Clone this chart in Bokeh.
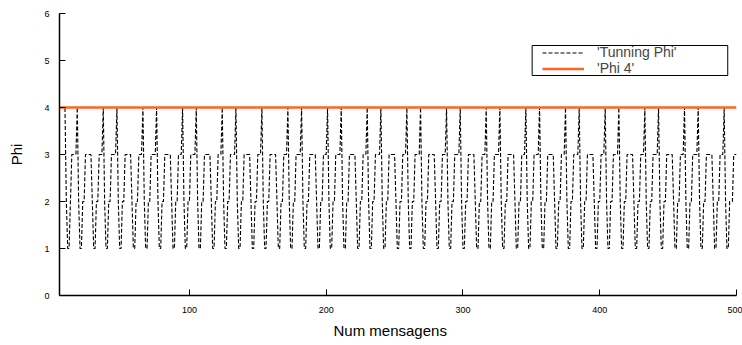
from bokeh.plotting import figure
from bokeh.models import Range1d, FixedTicker, Legend, LegendItem, BoxAnnotation, Title
from bokeh.embed import file_html
from bokeh.resources import INLINE

# 'Tunning Phi' values, one digit per message
# (each chunk ends on a peak at phi = 4)
TUNING_SEGMENTS = [
    "44444",                # msgs 5-9
    "211233334",            # 10-18
    "2112233333211223334",  # 19-37
    "2112233334",           # 38-47
    "2112233333211223334",  # 48-66
    "2112233334",           # 67-76
    "2112233333211223334",  # 77-95
    "2112233334",           # 96-105
    "2112233333211223334",  # 106-124
    "2112233334",           # 125-134
    "2112233333211223334",  # 135-153
    "2112233333211223334",  # 154-172
    "2112233334",           # 173-182
    "2112233333211223334",  # 183-201
    "2112233334",           # 202-211
    "2112233333211223334",  # 212-230
    "2112233334",           # 231-240
    "2112233333211223334",  # 241-259
    "2112233334",           # 260-269
    "2112233333211223334",  # 270-288
    "2112233334",           # 289-298
    "2112233333211223334",  # 299-317
    "2112233334",           # 318-327
    "2112233333211223334",  # 328-346
    "2112233334",           # 347-356
    "2112233333211223334",  # 357-375
    "2112233334",           # 376-385
    "2112233333211223334",  # 386-404
    "2112233334",           # 405-414
    "2112233333211223334",  # 415-433
    "2112233334",           # 434-443
    "2112233333211223334",  # 444-462
    "2112233334",           # 463-472
    "2112233333211223334",  # 473-491
    "211222333",            # 492-500
]
FIRST_MSG = 5
PHI_FIXED = 4
X_TICKS = [100, 200, 300, 400, 500]
Y_TICKS = [0, 1, 2, 3, 4, 5, 6]

tuning_phi = [int(c) for seg in TUNING_SEGMENTS for c in seg]
msgs = list(range(FIRST_MSG, FIRST_MSG + len(tuning_phi)))
phi_4 = [PHI_FIXED] * len(msgs)

FONT = "Liberation Sans"

p = figure(width=742, height=345, output_backend="svg", toolbar_location=None,
           x_range=Range1d(5, 500), y_range=Range1d(0, 6),
           min_border_left=59, min_border_right=6, min_border_top=13,
           min_border_bottom=50)
p.outline_line_color = None
p.grid.visible = False
p.background_fill_color = "white"

r1 = p.line(msgs, tuning_phi, line_color="black", line_width=1.1, line_dash="4 2")
r2 = p.line(msgs, phi_4, line_color="#ff6420", line_width=2.5)

for ax in (p.xaxis[0], p.yaxis[0]):
    ax.major_tick_in = 6
    ax.major_tick_out = 0
    ax.minor_tick_line_color = None
    ax.axis_line_width = 1.5
    ax.axis_line_color = "black"
    ax.major_tick_line_color = "black"
    ax.major_label_text_font = FONT
    ax.major_label_text_font_size = "9px"
    ax.major_label_text_color = "black"

p.xaxis[0].ticker = FixedTicker(ticks=X_TICKS)
p.yaxis[0].ticker = FixedTicker(ticks=Y_TICKS)
p.xaxis[0].major_label_standoff = 11
p.yaxis[0].major_label_standoff = 10

yax = p.yaxis[0]
yax.axis_label = "Phi"
yax.axis_label_text_font = FONT
yax.axis_label_text_font_size = "15px"
yax.axis_label_text_font_style = "normal"
yax.axis_label_text_color = "black"
yax.axis_label_standoff = 16

# x-axis title, placed where gnuplot put it (slightly left of the frame centre)
xtitle = Title(text="Num mensagens", align="left", offset=274, standoff=8,
               text_font=FONT, text_font_size="15px", text_font_style="normal",
               text_color="black")
p.add_layout(xtitle, "below")

legend = Legend(items=[LegendItem(label="'Tunning Phi'", renderers=[r1]),
                       LegendItem(label="'Phi 4'", renderers=[r2])],
                location=(483, 219), padding=0, spacing=0, margin=0,
                glyph_width=42, glyph_height=15, label_height=15,
                label_standoff=13, label_text_font=FONT,
                label_text_font_size="14px", border_line_alpha=0,
                background_fill_alpha=0)
p.add_layout(legend)

legend_frame = BoxAnnotation(left=350.6, right=493.6, bottom=4.681, top=5.319,
                             fill_color=None, line_color="black", line_width=1,
                             line_alpha=1)
p.add_layout(legend_frame)

open("out.html", "w").write(file_html(p, INLINE))
